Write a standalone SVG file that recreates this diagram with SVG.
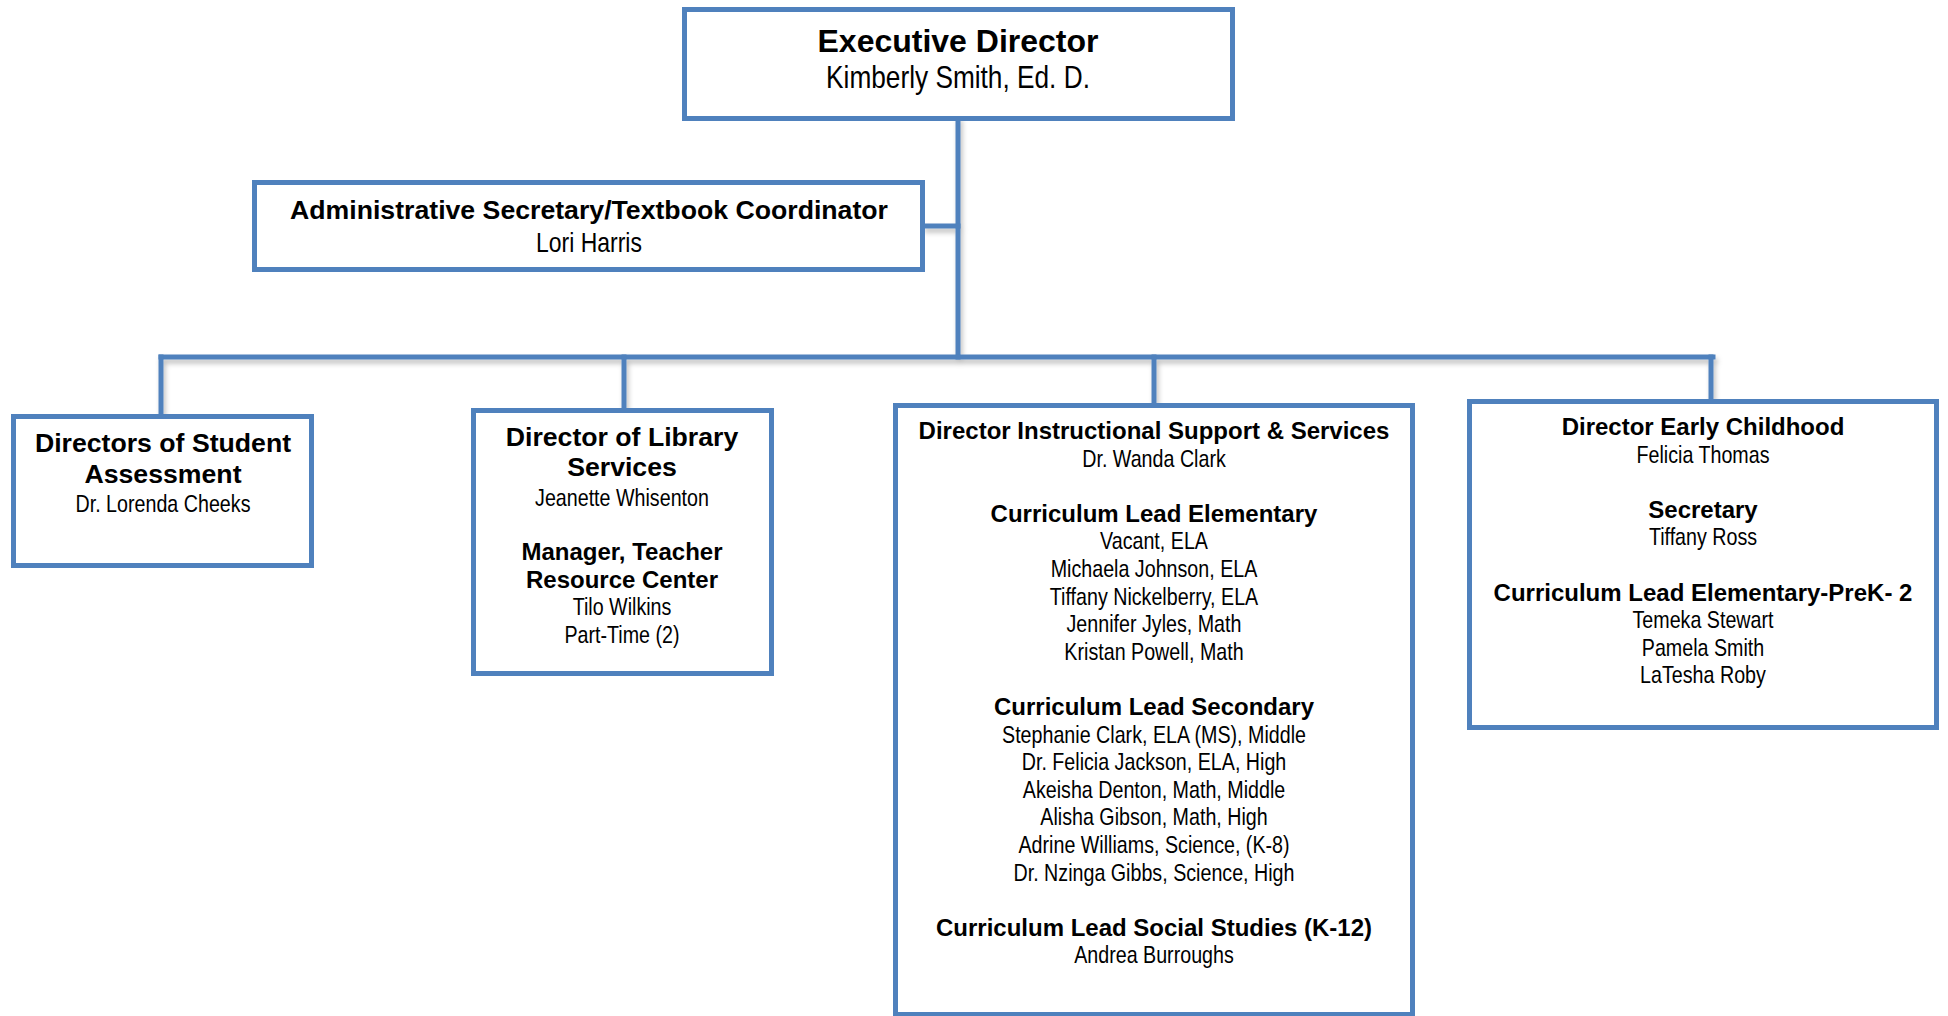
<svg xmlns="http://www.w3.org/2000/svg" width="1948" height="1016" viewBox="0 0 1948 1016">
<style>
.box{fill:#fff;stroke:#4F81BD;stroke-width:5}
.con{fill:none;stroke:#4F81BD;stroke-width:5;stroke-linecap:square}
text{text-anchor:middle;fill:#000}
.t32{font-family:"Liberation Sans",Arial,sans-serif;font-weight:bold;font-size:32px}
.t27{font-family:"Liberation Sans",Arial,sans-serif;font-weight:bold;font-size:26.67px}
.t24{font-family:"Liberation Sans",Arial,sans-serif;font-weight:bold;font-size:24px}
.n{font-family:"Liberation Sans",Arial,sans-serif;font-size:24px}
.n28{font-family:"Liberation Sans",Arial,sans-serif;font-size:28px}
.n32{font-family:"Liberation Sans",Arial,sans-serif;font-size:32px}
</style>
<defs>
<filter id="sh" x="-5%" y="-5%" width="110%" height="110%">
<feDropShadow dx="2" dy="4" stdDeviation="2.5" flood-color="#000" flood-opacity="0.25"/>
</filter>
</defs>
<g id="connectors" filter="url(#sh)">
<path class="con" d="M958 119V357"/>
<path class="con" d="M925 226H958"/>
<path class="con" d="M161 357H1713"/>
<path class="con" d="M161 357V415"/>
<path class="con" d="M624 357V409"/>
<path class="con" d="M1154 357V404"/>
<path class="con" d="M1711 357V400"/>
</g>
<g id="exec">
<rect class="box" x="684.5" y="9.5" width="548" height="109"/>
<text class="t32" x="958" y="52">Executive Director</text>
<g transform="translate(958 0) scale(0.82 1)">
<text class="n32" x="0" y="88">Kimberly Smith, Ed. D.</text>
</g>
</g>
<g id="admin">
<rect class="box" x="254.5" y="182.5" width="668" height="87"/>
<text class="t27" x="589" y="219">Administrative Secretary/Textbook Coordinator</text>
<g transform="translate(589 0) scale(0.82 1)">
<text class="n28" x="0" y="252">Lori Harris</text>
</g>
</g>
<g id="assessment">
<rect class="box" x="13.5" y="416.5" width="298" height="149"/>
<text class="t27" x="163" y="452">Directors of Student</text>
<text class="t27" x="163" y="483">Assessment</text>
<g transform="translate(163 0) scale(0.82 1)">
<text class="n" x="0" y="512">Dr. Lorenda Cheeks</text>
</g>
</g>
<g id="library">
<rect class="box" x="473.5" y="410.5" width="298" height="263"/>
<text class="t27" x="622" y="446">Director of Library</text>
<text class="t27" x="622" y="476">Services</text>
<text class="t24" x="622" y="560">Manager, Teacher</text>
<text class="t24" x="622" y="588">Resource Center</text>
<g transform="translate(622 0) scale(0.82 1)">
<text class="n" x="0" y="506">Jeanette Whisenton</text>
<text class="n" x="0" y="615">Tilo Wilkins</text>
<text class="n" x="0" y="643">Part-Time (2)</text>
</g>
</g>
<g id="instructional">
<rect class="box" x="895.5" y="405.5" width="517" height="609"/>
<text class="t24" x="1154" y="439">Director Instructional Support &amp; Services</text>
<text class="t24" x="1154" y="521.8">Curriculum Lead Elementary</text>
<text class="t24" x="1154" y="715">Curriculum Lead Secondary</text>
<text class="t24" x="1154" y="935.8">Curriculum Lead Social Studies (K-12)</text>
<g transform="translate(1154 0) scale(0.82 1)">
<text class="n" x="0" y="466.6">Dr. Wanda Clark</text>
<text class="n" x="0" y="549.4">Vacant, ELA</text>
<text class="n" x="0" y="577">Michaela Johnson, ELA</text>
<text class="n" x="0" y="604.6">Tiffany Nickelberry, ELA</text>
<text class="n" x="0" y="632.2">Jennifer Jyles, Math</text>
<text class="n" x="0" y="659.8">Kristan Powell, Math</text>
<text class="n" x="0" y="742.6">Stephanie Clark, ELA (MS), Middle</text>
<text class="n" x="0" y="770.2">Dr. Felicia Jackson, ELA, High</text>
<text class="n" x="0" y="797.8">Akeisha Denton, Math, Middle</text>
<text class="n" x="0" y="825.4">Alisha Gibson, Math, High</text>
<text class="n" x="0" y="853">Adrine Williams, Science, (K-8)</text>
<text class="n" x="0" y="880.6">Dr. Nzinga Gibbs, Science, High</text>
<text class="n" x="0" y="963.4">Andrea Burroughs</text>
</g>
</g>
<g id="early">
<rect class="box" x="1469.5" y="401.5" width="467" height="326"/>
<text class="t24" x="1703" y="435">Director Early Childhood</text>
<text class="t24" x="1703" y="517.8">Secretary</text>
<text class="t24" x="1703" y="600.6">Curriculum Lead Elementary-PreK- 2</text>
<g transform="translate(1703 0) scale(0.82 1)">
<text class="n" x="0" y="462.6">Felicia Thomas</text>
<text class="n" x="0" y="545.4">Tiffany Ross</text>
<text class="n" x="0" y="628.2">Temeka Stewart</text>
<text class="n" x="0" y="655.8">Pamela Smith</text>
<text class="n" x="0" y="683.4">LaTesha Roby</text>
</g>
</g>
</svg>
